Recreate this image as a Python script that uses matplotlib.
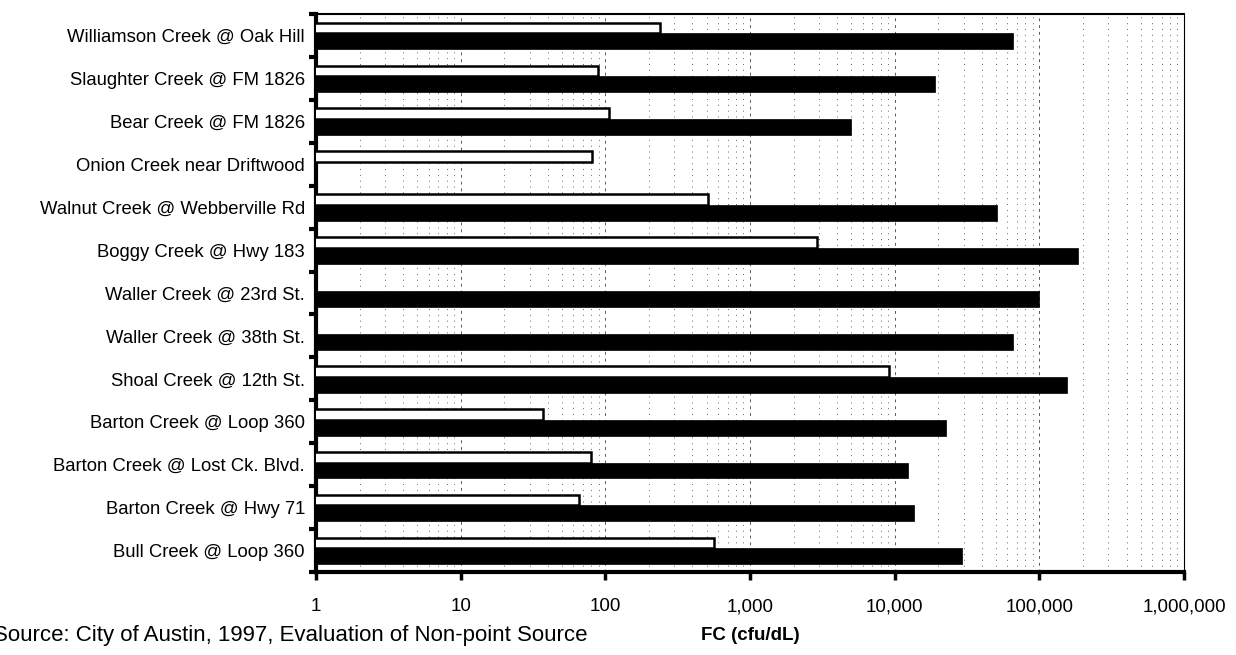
import numpy as np
import matplotlib.pyplot as plt
from matplotlib.ticker import FixedLocator, NullFormatter, FuncFormatter

plt.rcParams['font.family'] = ['Liberation Sans', 'DejaVu Sans']

sites = [
    "Williamson Creek @ Oak Hill",
    "Slaughter Creek @ FM 1826",
    "Bear Creek @ FM 1826",
    "Onion Creek near Driftwood",
    "Walnut Creek @ Webberville Rd",
    "Boggy Creek @ Hwy 183",
    "Waller Creek @ 23rd St.",
    "Waller Creek @ 38th St.",
    "Shoal Creek @ 12th St.",
    "Barton Creek @ Loop 360",
    "Barton Creek @ Lost Ck. Blvd.",
    "Barton Creek @ Hwy 71",
    "Bull Creek @ Loop 360",
]
# baseflow (open bars) and storm (solid bars) fecal coliform, cfu/dL
base_fc = [240, 89, 106, 81, 510, 2900, np.nan, np.nan, 9100, 37, 79, 66, 565]
storm_fc = [66000, 19000, 5000, np.nan, 51000, 185000, 100000, 66000, 154000, 22600, 12300, 13500, 29000]

y = np.arange(len(sites))

fig = plt.figure(figsize=(12.36, 6.55), dpi=100)
ax = fig.add_axes([0.2557, 0.1267, 0.7023, 0.8519])

ax.barh(y - 0.175, base_fc, height=0.25, left=0, color='white',
        edgecolor='black', linewidth=1.8, zorder=3)
ax.barh(y + 0.135, storm_fc, height=0.37, left=0, color='black',
        edgecolor='black', linewidth=0.5, zorder=3)

ax.set_xscale('log')
ax.set_xlim(1, 1e6)
ax.set_ylim(len(sites) - 0.5, -0.5)

# decade ticks with comma labels
decades = [10.0 ** k for k in range(7)]
ax.xaxis.set_major_locator(FixedLocator(decades))
ax.xaxis.set_major_formatter(FuncFormatter(lambda v, p: f"{int(round(v)):,}"))
minors = [m * d for d in decades[:-1] for m in range(2, 10)]
ax.xaxis.set_minor_locator(FixedLocator(minors))
ax.xaxis.set_minor_formatter(NullFormatter())
ax.tick_params(axis='x', which='major', length=6, width=2.5, direction='out',
               labelsize=13.5, pad=13)
ax.tick_params(axis='x', which='minor', length=0)

# site names centred on each row, tick marks between rows
ax.yaxis.set_major_locator(FixedLocator(np.arange(len(sites) + 1) - 0.5))
ax.yaxis.set_major_formatter(NullFormatter())
ax.yaxis.set_minor_locator(FixedLocator(y))
ax.set_yticklabels(sites, minor=True)
ax.tick_params(axis='y', which='major', length=5, width=3, direction='out')
ax.tick_params(axis='y', which='minor', length=0, labelsize=13.3, pad=8)

ax.grid(True, axis='x', which='minor', linestyle=(0, (1, 5)), color='0.4',
        linewidth=0.7, zorder=0)
ax.grid(True, axis='x', which='major', linestyle=(0, (3, 4)), color='0.35',
        linewidth=0.7, zorder=0)
ax.set_axisbelow(True)

ax.spines['left'].set_linewidth(3)
ax.spines['bottom'].set_linewidth(3)
ax.spines['top'].set_linewidth(1.5)
ax.spines['right'].set_linewidth(0.8)

ax.set_xlabel("FC (cfu/dL)", fontsize=13.5, fontweight='bold', labelpad=8)
fig.text(-0.006, 0.014, "Source: City of Austin, 1997, Evaluation of Non-point Source",
         fontsize=16, ha='left', va='bottom')

fig.savefig("out.png", dpi=100)
